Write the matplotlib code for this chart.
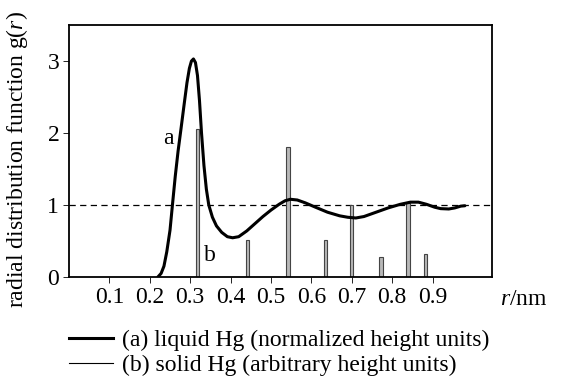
import matplotlib.pyplot as plt
from matplotlib.lines import Line2D

plt.rcParams['font.family'] = ['Liberation Serif', 'DejaVu Serif']
plt.rcParams['mathtext.fontset'] = 'custom'
plt.rcParams['mathtext.rm'] = 'Liberation Serif'
plt.rcParams['mathtext.it'] = 'Liberation Serif:italic'

# liquid Hg g(r)
r_liquid = [0.220, 0.228, 0.235, 0.242, 0.250, 0.256, 0.263, 0.270, 0.277, 0.285,
            0.292, 0.298, 0.303, 0.308, 0.313, 0.318, 0.323, 0.328, 0.334, 0.340,
            0.346, 0.355, 0.365, 0.378, 0.392, 0.405, 0.420, 0.440, 0.460, 0.480,
            0.500, 0.520, 0.535, 0.548, 0.565, 0.585, 0.610, 0.640, 0.670, 0.690,
            0.710, 0.730, 0.760, 0.790, 0.820, 0.845, 0.865, 0.885, 0.905, 0.920,
            0.940, 0.955, 0.970, 0.980]
g_liquid = [0.00, 0.05, 0.15, 0.35, 0.65, 1.00, 1.40, 1.75, 2.05, 2.40,
            2.70, 2.90, 3.00, 3.03, 2.98, 2.80, 2.45, 2.00, 1.55, 1.22,
            1.00, 0.83, 0.71, 0.62, 0.56, 0.545, 0.56, 0.64, 0.74, 0.84,
            0.93, 1.01, 1.06, 1.08, 1.07, 1.03, 0.97, 0.90, 0.85, 0.83,
            0.82, 0.84, 0.90, 0.96, 1.01, 1.04, 1.04, 1.01, 0.97, 0.95,
            0.945, 0.96, 0.985, 0.99]

# solid Hg peaks
r_solid = [0.318, 0.442, 0.542, 0.635, 0.699, 0.772, 0.839, 0.883]
h_solid = [2.05, 0.51, 1.81, 0.51, 1.00, 0.28, 1.03, 0.32]

xticks = [0.1, 0.2, 0.3, 0.4, 0.5, 0.6, 0.7, 0.8, 0.9]
yticks = [0, 1, 2, 3]

fs = 17

fig = plt.figure(figsize=(5.62, 3.81), dpi=100)
ax = fig.add_axes([0.1228, 0.273, 0.7526, 0.661])

ax.axhline(1, color='black', lw=0.9, ls=(0, (5, 3.5)), zorder=1)
ax.bar(r_solid, h_solid, width=0.0085, color='#b8b8b8', edgecolor='#444444',
       linewidth=0.8, zorder=2)
ax.plot(r_liquid, g_liquid, color='black', lw=2.2, zorder=3, solid_capstyle='round')

ax.text(0.247, 1.93, 'a', fontsize=fs, ha='center', va='center')
ax.text(0.349, 0.30, 'b', fontsize=fs, ha='center', va='center')

ax.set_xlim(0, 1.047)
ax.set_ylim(0, 3.5)
ax.set_xticks(xticks)
ax.set_xticklabels([str(t) for t in xticks])
ax.set_yticks(yticks)
ax.tick_params(direction='out', length=4, width=0.6, labelsize=fs, pad=3)
for s in ax.spines.values():
    s.set_linewidth(1.3)

fig.text(0.030, 0.58, 'radial distribution function g($r$)', rotation=90,
         ha='center', va='center', fontsize=fs)
fig.text(0.89, 0.215, '$r$/nm', ha='left', va='center', fontsize=fs)

handles = [Line2D([], [], color='black', lw=2.2), Line2D([], [], color='black', lw=0.8)]
labels = ['(a) liquid Hg (normalized height units)', '(b) solid Hg (arbitrary height units)']
fig.legend(handles, labels, loc='upper left', bbox_to_anchor=(0.122, 0.135),
           frameon=False, fontsize=fs, handlelength=1.9, handletextpad=0.35,
           labelspacing=0.15, borderpad=0, borderaxespad=0)

fig.savefig('out.png', dpi=100)
